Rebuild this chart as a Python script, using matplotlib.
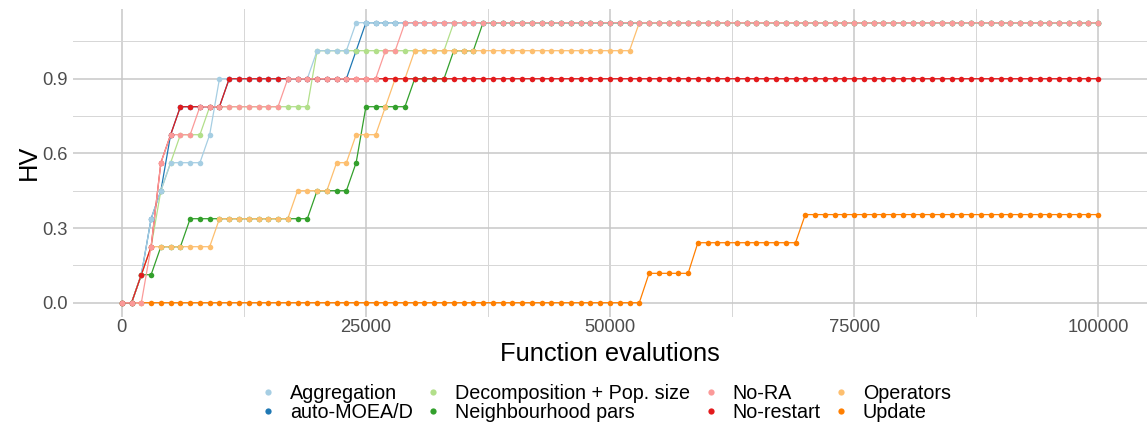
import matplotlib
matplotlib.use("Agg")
import matplotlib.pyplot as plt
from matplotlib.lines import Line2D
from matplotlib.ticker import MultipleLocator

plt.rcParams['font.family'] = ['Liberation Sans', 'DejaVu Sans']

# Evaluation grid (one point every 1000 evaluations)
evals = list(range(0, 100001, 1000))

# HV values, as (value, number of consecutive points)
L = 0.1125  # HV step seen in the picture
aggregation = [(0, 2), (1*L, 1), (3*L, 1), (4*L, 1), (5*L, 4), (6*L, 1),
               (8*L, 10), (9*L, 4), (10*L, 77)]
auto_moead = [(0, 2), (1*L, 1), (3*L, 1), (4*L, 1), (6*L, 1), (7*L, 5),
              (8*L, 13), (9*L, 1), (10*L, 76)]
decomposition = [(0, 2), (1*L, 1), (2*L, 1), (4*L, 1), (5*L, 1), (6*L, 3),
                 (7*L, 11), (9*L, 14), (10*L, 67)]
neighbourhood = [(0, 2), (1*L, 2), (2*L, 3), (3*L, 13), (4*L, 4), (5*L, 1),
                 (7*L, 5), (8*L, 4), (9*L, 3), (10*L, 64)]
no_ra = [(0, 3), (2*L, 1), (5*L, 1), (6*L, 3), (7*L, 9), (8*L, 10),
         (9*L, 2), (10*L, 72)]
no_restart = [(0, 2), (1*L, 1), (2*L, 1), (5*L, 1), (6*L, 1), (7*L, 5),
              (8*L, 90)]
operators = [(0, 2), (1*L, 1), (2*L, 7), (3*L, 8), (4*L, 4), (5*L, 2),
             (6*L, 3), (7*L, 1), (8*L, 2), (9*L, 23), (10*L, 48)]
update = [(0, 54), (0.118, 5), (0.241, 11), (0.354, 31)]

labels = ["Aggregation", "auto-MOEA/D", "Decomposition + Pop. size",
          "Neighbourhood pars", "No-RA", "No-restart", "Operators", "Update"]
colors = ["#A6CEE3", "#1F78B4", "#B2DF8A", "#33A02C",
          "#FB9A99", "#E31A1C", "#FDBF6F", "#FF7F00"]
series = [aggregation, auto_moead, decomposition, neighbourhood,
          no_ra, no_restart, operators, update]
# drawing order (bottom -> top) as seen in the picture
draw_rank = [5, 1, 2, 3, 7, 6, 4, 0]


def expand(runs):
    out = []
    for v, n in runs:
        out.extend([v] * n)
    return out


fig = plt.figure(figsize=(11.48, 4.26), dpi=100)
ax = fig.add_axes([73/1148, 1 - 316.7/426, (1147 - 73)/1148, (316.7 - 8.7)/426])

for lab, col, runs, rk in zip(labels, colors, series, draw_rank):
    y = expand(runs)
    ax.plot(evals, y, color=col, lw=0.9, zorder=2 + rk * 0.01)
    ax.plot(evals, y, linestyle='none', marker='o', ms=4.0, mew=0,
            color=col, zorder=3 + rk * 0.01)

ax.set_xlim(-5000, 105000)
ax.set_ylim(-0.05625, 1.18125)
ax.set_xticks([0, 25000, 50000, 75000, 100000])
ax.set_xticklabels(["0", "25000", "50000", "75000", "100000"])
ax.set_yticks([0.0, 0.3, 0.6, 0.9])
ax.set_yticklabels(["0.0", "0.3", "0.6", "0.9"])
ax.xaxis.set_minor_locator(MultipleLocator(12500))
ax.yaxis.set_minor_locator(MultipleLocator(0.15))

for s in ax.spines.values():
    s.set_visible(False)
ax.tick_params(which='both', length=0)
ax.tick_params(axis='both', labelsize=13.2, labelcolor='#4D4D4D')
ax.tick_params(axis='x', pad=2)
ax.tick_params(axis='y', pad=4)
ax.grid(which='major', color='#C8C8C8', lw=1.1, zorder=0)
ax.grid(which='minor', color='#D6D6D6', lw=0.7, zorder=0)
ax.set_axisbelow(True)

ax.set_xlabel("Function evalutions", fontsize=18.4, labelpad=4)
ax.set_ylabel("HV", fontsize=18.4, labelpad=1)

handles = [Line2D([], [], linestyle='none', marker='o', ms=4.5, mew=0, color=c)
           for c in colors]
fig.legend(handles, labels, ncol=4, loc='center',
           bbox_to_anchor=(607/1148, 1 - 403/426), frameon=False,
           fontsize=14.2, handlelength=0.5, handletextpad=0.85,
           columnspacing=0.8, labelspacing=0.0, borderpad=0)

fig.savefig("out.png", dpi=100, facecolor='white')
